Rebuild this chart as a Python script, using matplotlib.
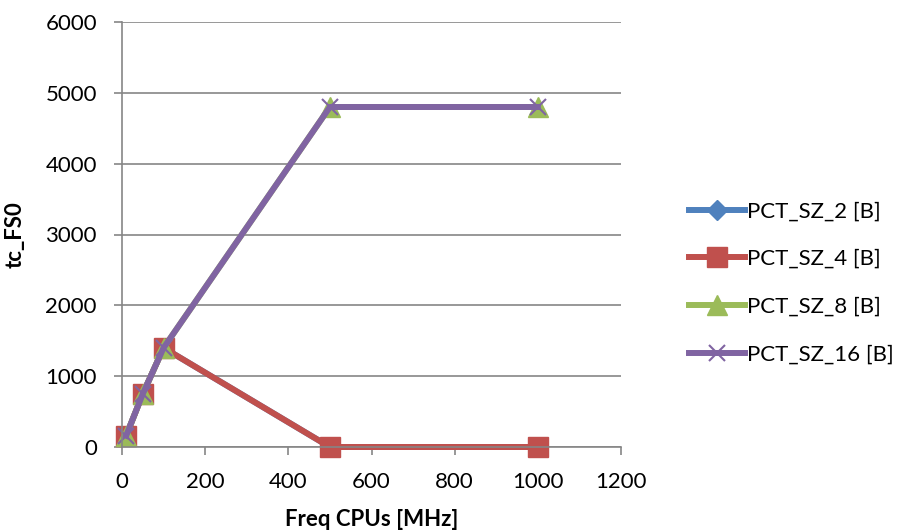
import matplotlib
matplotlib.use("Agg")
import matplotlib.pyplot as plt

freq = [10, 50, 100, 500, 1000]
pct_sz_2 = [160, 750, 1400, 0, 0]
pct_sz_4 = [160, 750, 1400, 0, 0]
pct_sz_8 = [160, 750, 1400, 4800, 4800]
pct_sz_16 = [160, 750, 1400, 4800, 4800]
labels = ["PCT_SZ_2 [B]", "PCT_SZ_4 [B]", "PCT_SZ_8 [B]", "PCT_SZ_16 [B]"]
x_ticks = [0, 200, 400, 600, 800, 1000, 1200]
y_ticks = [0, 1000, 2000, 3000, 4000, 5000, 6000]

plt.rcParams['font.family'] = ['Lato', 'DejaVu Sans']

fig = plt.figure(figsize=(9.04, 5.32), dpi=100)
ax = fig.add_axes([122/904, 1-447/532, (621-122)/904, (447-22)/532])

grid_c = '#868686'
ax.set_xlim(0, 1200)
ax.set_ylim(0, 6000)
ax.set_xticks(x_ticks)
ax.set_yticks(y_ticks)
ax.yaxis.grid(True, color=grid_c, linewidth=1.2)
ax.set_axisbelow(True)
for s in ['top', 'right']:
    ax.spines[s].set_visible(False)
for s in ['left', 'bottom']:
    ax.spines[s].set_color(grid_c)
    ax.spines[s].set_linewidth(1.2)
ax.tick_params(axis='both', colors=grid_c, length=6, width=1.2, labelsize=16, labelcolor='black')
ax.tick_params(axis='x', pad=12)
ax.tick_params(axis='y', pad=12)

lw = 4.3
ax.plot(freq, pct_sz_2, color='#4F81BD', lw=lw, marker='D', ms=10, label=labels[0], clip_on=False)
ax.plot(freq, pct_sz_4, color='#C0504D', lw=lw, marker='s', ms=14, label=labels[1], clip_on=False)
ax.plot(freq, pct_sz_8, color='#9BBB59', lw=lw, marker='^', ms=14, label=labels[2], clip_on=False)
ax.plot(freq, pct_sz_16, color='#8064A2', lw=lw, marker='x', ms=12, mew=1.5, label=labels[3], clip_on=False)

ax.set_xlabel('Freq CPUs [MHz]', fontsize=16, fontweight='bold', labelpad=12)
ax.set_ylabel('tc_FS0', fontsize=16, fontweight='bold', labelpad=14)

leg = fig.legend(loc='center left', bbox_to_anchor=(669/904, 1-283/532), frameon=False,
                 fontsize=16, handlelength=2.5, handletextpad=0.1, labelspacing=1.25)

fig.savefig('out.png', dpi=100)
